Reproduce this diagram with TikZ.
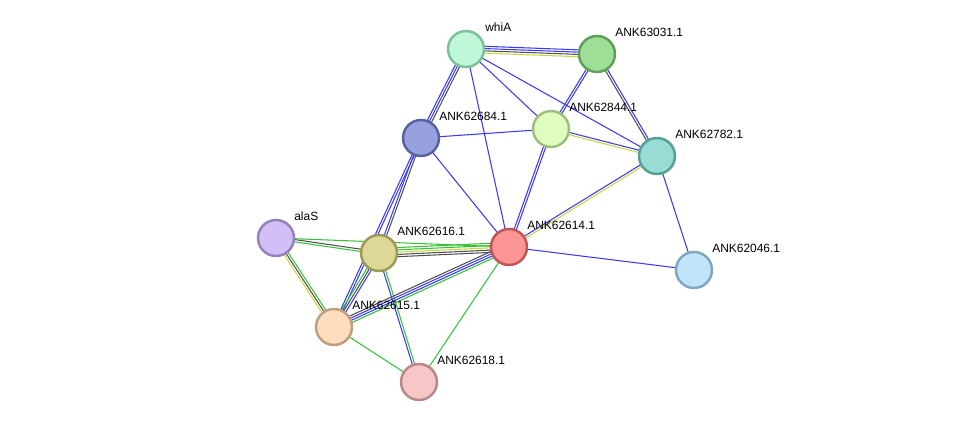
\documentclass[tikz,border=0pt]{standalone}
\usepackage{fontspec}
\setmainfont{Liberation Sans}
\usetikzlibrary{calc}
\usetikzlibrary{positioning}

\definecolor{eblue}{HTML}{3A3AF5}
\definecolor{egreen}{HTML}{36C236}
\definecolor{eyell}{HTML}{C8D83A}
\definecolor{edark}{HTML}{505050}

\tikzset{
    prot/.style={circle,minimum size=0.72cm,inner sep=0pt,line width=1.4pt},
    lbl/.style={anchor=west,inner sep=0pt,font=\fontsize{6.8}{8}\selectfont},
    ln/.style={line width=0.6pt}
}

% #1,#2 node names, #3 number of lines, #4 colour list
\newcommand{\ppiedge}[4]{
    \foreach \c [count=\i] in {#4} {
        \pgfmathsetmacro{\off}{(\i-1-(#3-1)/2)*1.3}
        \draw[ln,\c] ($(#1.center)!\off pt!90:(#2.center)$) -- ($(#2.center)!\off pt!-90:(#1.center)$);
    }
}

\begin{document}
\begin{tikzpicture}[x=0.02cm,y=-0.02cm]
        \useasboundingbox (0,0) rectangle (975,428);
        % proteins
        \coordinate (whiA) at (466,49);
        \coordinate (a031) at (597,54);
        \coordinate (a684) at (421,138);
        \coordinate (a844) at (551,129);
        \coordinate (a782) at (657,156);
        \coordinate (alaS) at (276,238);
        \coordinate (a616) at (379,253);
        \coordinate (a614) at (509,247);
        \coordinate (a046) at (694,270);
        \coordinate (a615) at (334,327);
        \coordinate (a618) at (419,382);
        % edges
        \ppiedge{whiA}{a031}{4}{eyell,edark,eblue,eblue}
        \ppiedge{whiA}{a684}{3}{eblue,eblue,edark}
        \ppiedge{whiA}{a614}{1}{eblue}
        \ppiedge{whiA}{a844}{1}{eblue}
        \ppiedge{whiA}{a782}{1}{eblue}
        \ppiedge{a031}{a844}{2}{eblue,eblue}
        \ppiedge{a031}{a782}{2}{edark,eblue}
        \ppiedge{a684}{a844}{1}{eblue}
        \ppiedge{a684}{a614}{1}{eblue}
        \ppiedge{a684}{a616}{2}{eblue,edark}
        \ppiedge{a684}{a615}{2}{eblue,eblue}
        \ppiedge{a844}{a782}{2}{eyell,eblue}
        \ppiedge{a844}{a614}{2}{eblue,eblue}
        \ppiedge{a782}{a614}{2}{eblue,eyell}
        \ppiedge{a782}{a046}{1}{eblue}
        \ppiedge{a614}{a046}{1}{eblue}
        \ppiedge{alaS}{a616}{2}{egreen,edark}
        \ppiedge{alaS}{a614}{1}{egreen}
        \ppiedge{alaS}{a615}{3}{eyell,edark,egreen}
        \ppiedge{a616}{a614}{5}{edark,edark,eyell,egreen,egreen}
        \ppiedge{a616}{a615}{3}{egreen,edark,eblue}
        \ppiedge{a616}{a618}{2}{eblue,egreen}
        \ppiedge{a614}{a615}{4}{edark,eblue,eblue,egreen}
        \ppiedge{a614}{a618}{1}{egreen}
        \ppiedge{a615}{a618}{1}{egreen}
        % nodes
        \node[prot,fill={rgb,255:red,191;green,247;blue,217},draw={rgb,255:red,125;green,191;blue,151}] (nwhiA) at (whiA) {};
        \node[prot,fill={rgb,255:red,158;green,223;blue,151},draw={rgb,255:red,94;green,159;blue,87}] (n031) at (a031) {};
        \node[prot,fill={rgb,255:red,151;green,161;blue,223},draw={rgb,255:red,88;green,97;blue,160}] (n684) at (a684) {};
        \node[prot,fill={rgb,255:red,224;green,253;blue,192},draw={rgb,255:red,160;green,189;blue,128}] (n844) at (a844) {};
        \node[prot,fill={rgb,255:red,151;green,221;blue,213},draw={rgb,255:red,87;green,158;blue,149}] (n782) at (a782) {};
        \node[prot,fill={rgb,255:red,211;green,191;blue,247},draw={rgb,255:red,150;green,128;blue,186}] (nalaS) at (alaS) {};
        \node[prot,fill={rgb,255:red,220;green,216;blue,149},draw={rgb,255:red,156;green,152;blue,88}] (n616) at (a616) {};
        \node[prot,fill={rgb,255:red,253;green,149;blue,150},draw={rgb,255:red,190;green,86;blue,87}] (n614) at (a614) {};
        \node[prot,fill={rgb,255:red,192;green,229;blue,251},draw={rgb,255:red,127;green,167;blue,194}] (n046) at (a046) {};
        \node[prot,fill={rgb,255:red,253;green,221;blue,190},draw={rgb,255:red,190;green,158;blue,128}] (n615) at (a615) {};
        \node[prot,fill={rgb,255:red,247;green,198;blue,198},draw={rgb,255:red,184;green,136;blue,136}] (n618) at (a618) {};
        % labels
        \node[lbl] (lwhiA) at ($(whiA)+(19,-22)$) {whiA};
        \node[lbl] (l031) at ($(a031)+(18,-22)$) {ANK63031.1};
        \node[lbl] (l684) at ($(a684)+(18,-22)$) {ANK62684.1};
        \node[lbl] (l844) at ($(a844)+(18,-22)$) {ANK62844.1};
        \node[lbl] (l782) at ($(a782)+(18,-22)$) {ANK62782.1};
        \node[lbl] (lalaS) at ($(alaS)+(18,-22)$) {alaS};
        \node[lbl] (l616) at ($(a616)+(18,-22)$) {ANK62616.1};
        \node[lbl] (l614) at ($(a614)+(18,-22)$) {ANK62614.1};
        \node[lbl] (l046) at ($(a046)+(18,-22)$) {ANK62046.1};
        \node[lbl] (l615) at ($(a615)+(18,-22)$) {ANK62615.1};
        \node[lbl] (l618) at ($(a618)+(18,-22)$) {ANK62618.1};
\end{tikzpicture}
\end{document}
